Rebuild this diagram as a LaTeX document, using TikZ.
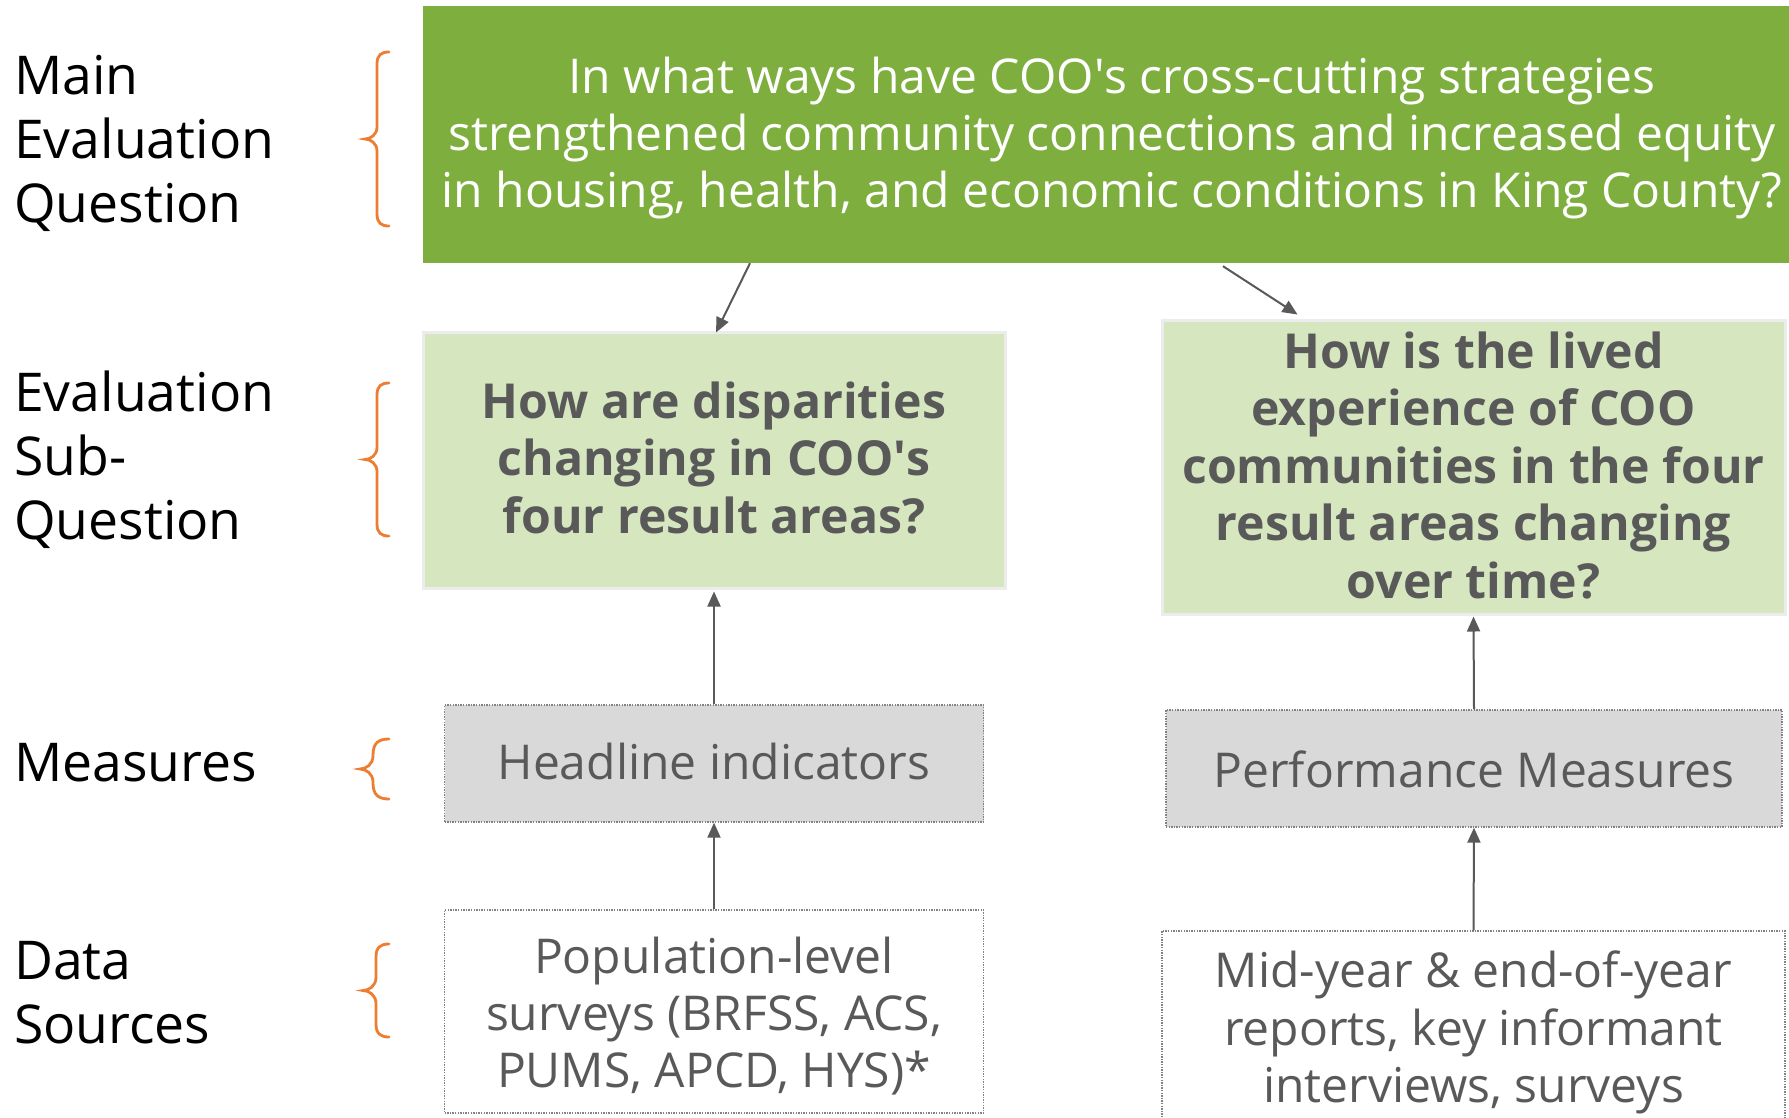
\documentclass[tikz,border=0pt]{standalone}
\usepackage{fontspec}
\setmainfont{Open Sans}
\usetikzlibrary{arrows.meta}
\definecolor{mainGreen}{RGB}{125,174,62}
\definecolor{lightGreen}{RGB}{214,231,192}
\definecolor{boxGrey}{RGB}{217,217,217}
\definecolor{textGrey}{RGB}{89,89,89}
\definecolor{braceOrange}{RGB}{237,125,49}
\definecolor{dotGrey}{RGB}{130,130,130}
\definecolor{shadowGrey}{RGB}{236,236,236}
\newcommand{\orbrace}[5]{%
\pgfmathsetmacro\bmid{(#4+#5)/2}%
\draw[bracestyle] (#1,#4) .. controls ({#2+0.35*(#1-#2)},#4) and (#2,{#4+0.25*(#1-#2)}) .. (#2,{#4+(#1-#2)})
 -- (#2,{\bmid-(#2-#3)}) .. controls (#2,{\bmid-0.35*(#2-#3)}) and ({#3+0.45*(#2-#3)},\bmid) .. (#3,\bmid)
 .. controls ({#3+0.45*(#2-#3)},\bmid) and (#2,{\bmid+0.35*(#2-#3)}) .. (#2,{\bmid+(#2-#3)})
 -- (#2,{#5-(#1-#2)}) .. controls (#2,{#5-0.25*(#1-#2)}) and ({#2+0.35*(#1-#2)},#5) .. (#1,#5);}
\begin{document}
\begin{tikzpicture}[x=1pt,y=-1pt,
  bracestyle/.style={draw=braceOrange,line width=2.8pt,line cap=round},
  lbl/.style={inner sep=0pt,anchor=base west,text=black,font=\fontsize{53.5}{64}\selectfont},
  txt/.style={inner sep=0pt,anchor=base},
  mainbox/.style={fill=mainGreen,draw=none,inner sep=0pt},
  subbox/.style={fill=lightGreen,draw=shadowGrey,line width=3pt,inner sep=0pt},
  measbox/.style={fill=boxGrey,draw=dotGrey,line width=1.4pt,dash pattern=on 1.4pt off 1.2pt,inner sep=0pt},
  srcbox/.style={fill=white,draw=dotGrey,line width=1.4pt,dash pattern=on 1.4pt off 1.2pt,inner sep=0pt},
  arr/.style={draw=textGrey,line width=2pt,-{Triangle[length=15pt,width=13pt]}}]
\useasboundingbox[fill=white] (0,0) rectangle (1789,1117);
% boxes
\node[mainbox,minimum width=1378pt,minimum height=257pt] (main) at (1112,134.5) {};
\node[subbox,minimum width=582pt,minimum height=256pt] (lsub) at (714,460) {};
\node[subbox,minimum width=623pt,minimum height=294pt] (rsub) at (1473.5,467) {};
\node[measbox,minimum width=539pt,minimum height=117pt] (head) at (714,763.5) {};
\node[measbox,minimum width=616pt,minimum height=117pt] (perf) at (1474,768.5) {};
\node[srcbox,minimum width=539pt,minimum height=203pt] (pop) at (714,1011.5) {};
\node[srcbox,minimum width=623pt,minimum height=220pt] (mid) at (1473.5,1041) {};
% texts
\node[txt,text=white,font=\fontsize{48}{57}\selectfont] (maintxt) at (1112,93.5)
 {\begin{tabular}[t]{@{}c@{}}In what ways have COO\textquotesingle s cross-cutting strategies\\strengthened community connections and increased equity\\in housing, health, and economic conditions in King County?\end{tabular}};
\node[txt,text=textGrey,font=\fontsize{48.2}{57.5}\bfseries\selectfont] (lsubtxt) at (714,418)
 {\begin{tabular}[t]{@{}c@{}}How are disparities\\changing in COO\textquotesingle s\\four result areas?\end{tabular}};
\node[txt,text=textGrey,font=\fontsize{48.2}{57.5}\bfseries\selectfont] (rsubtxt) at (1473.5,368)
 {\begin{tabular}[t]{@{}c@{}}How is the lived\\experience of COO\\communities in the four\\result areas changing\\over time?\end{tabular}};
\node[txt,text=textGrey,font=\fontsize{48}{57}\selectfont] (headtxt) at (714,779) {Headline indicators};
\node[txt,text=textGrey,font=\fontsize{48}{57}\selectfont] (perftxt) at (1474,787) {Performance Measures};
\node[txt,text=textGrey,font=\fontsize{48}{57}\selectfont] (poptxt) at (714,973)
 {\begin{tabular}[t]{@{}c@{}}Population-level\\surveys (BRFSS, ACS,\\PUMS, APCD, HYS)*\end{tabular}};
\node[txt,text=textGrey,font=\fontsize{48}{57.5}\selectfont] (midtxt) at (1473.5,987.5)
 {\begin{tabular}[t]{@{}c@{}}Mid-year \& end-of-year\\reports, key informant\\interviews, surveys\end{tabular}};
% left labels
\node[lbl] (l1) at (14,94.5) {\begin{tabular}[t]{@{}l@{}}Main\\Evaluation\\Question\end{tabular}};
\node[lbl] (l2) at (14,411) {\begin{tabular}[t]{@{}l@{}}Evaluation\\Sub-\\Question\end{tabular}};
\node[lbl] (l3) at (14,781) {Measures};
\node[lbl] (l4) at (14,979.5) {\begin{tabular}[t]{@{}l@{}}Data\\Sources\end{tabular}};
% braces
\orbrace{389}{377}{365}{52}{226}
\orbrace{389}{377}{365}{383}{536}
\orbrace{389}{373}{360}{739}{799}
\orbrace{389}{376}{363}{944}{1037}
% arrows
\draw[arr] ([xshift=-362pt]main.south) -- ([xshift=2pt,yshift=-2pt]lsub.north);
\draw[arr] ([xshift=111pt,yshift=-3pt]main.south) -- ([xshift=-176pt,yshift=4pt]rsub.north);
\draw[arr] (head.north) -- ([yshift=-2pt]lsub.south);
\draw[arr] (pop.north) -- (head.south);
\draw[arr] (perf.north) -- ([yshift=-1pt]rsub.south);
\draw[arr] (mid.north) -- (perf.south);
\end{tikzpicture}
\end{document}
